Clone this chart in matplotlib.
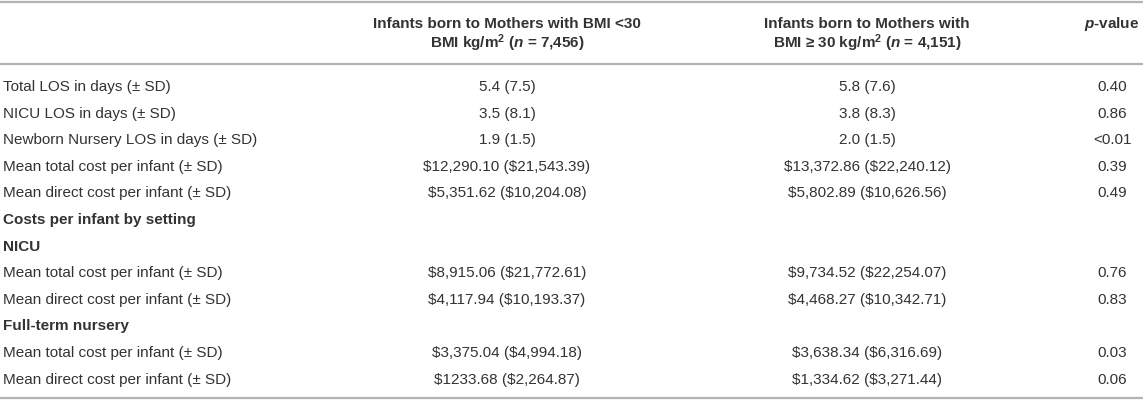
import matplotlib
matplotlib.use("Agg")
import matplotlib.pyplot as plt

plt.rcParams['font.family'] = ['Liberation Sans', 'DejaVu Sans']
plt.rcParams['mathtext.fontset'] = 'custom'
plt.rcParams['mathtext.rm'] = 'Liberation Sans'
plt.rcParams['mathtext.it'] = 'Liberation Sans:italic'
plt.rcParams['mathtext.bf'] = 'Liberation Sans:bold'
plt.rcParams['mathtext.bfit'] = 'Liberation Sans:italic:bold'

# table content
header_1 = ["Infants born to Mothers with BMI <30",
            r"BMI kg/m$^{\mathbf{2}}$ ($\mathbfit{n}$ = 7,456)"]
header_2 = ["Infants born to Mothers with",
            "BMI \u2265 30 kg/m$^{\\mathbf{2}}$ ($\\mathbfit{n}$ = 4,151)"]
header_p = r"$\mathbfit{p}$-value"

row_labels = [
    "Total LOS in days (\u00b1 SD)",
    "NICU LOS in days (\u00b1 SD)",
    "Newborn Nursery LOS in days (\u00b1 SD)",
    "Mean total cost per infant (\u00b1 SD)",
    "Mean direct cost per infant (\u00b1 SD)",
    "Costs per infant by setting",
    "NICU",
    "Mean total cost per infant (\u00b1 SD)",
    "Mean direct cost per infant (\u00b1 SD)",
    "Full-term nursery",
    "Mean total cost per infant (\u00b1 SD)",
    "Mean direct cost per infant (\u00b1 SD)",
]
section_rows = [5, 6, 9]
bmi_under_30 = ["5.4 (7.5)", "3.5 (8.1)", "1.9 (1.5)",
                "$12,290.10 ($21,543.39)", "$5,351.62 ($10,204.08)",
                "", "",
                "$8,915.06 ($21,772.61)", "$4,117.94 ($10,193.37)",
                "",
                "$3,375.04 ($4,994.18)", "$1233.68 ($2,264.87)"]
bmi_30_plus = ["5.8 (7.6)", "3.8 (8.3)", "2.0 (1.5)",
               "$13,372.86 ($22,240.12)", "$5,802.89 ($10,626.56)",
               "", "",
               "$9,734.52 ($22,254.07)", "$4,468.27 ($10,342.71)",
               "",
               "$3,638.34 ($6,316.69)", "$1,334.62 ($3,271.44)"]
p_values = ["0.40", "0.86", "<0.01", "0.39", "0.49", "", "",
            "0.76", "0.83", "", "0.03", "0.06"]

W, H = 1143, 402
text_color = "#333333"
line_color = "#b3b3b3"

fig = plt.figure(figsize=(W / 100, H / 100), dpi=100)
ax = fig.add_axes([0, 0, 1, 1])
ax.set_xlim(0, W)
ax.set_ylim(H, 0)
ax.axis("off")

# rules
for y in [3, 65, 399]:
    ax.plot([0, W], [y, y], color=line_color, lw=1.6, solid_capstyle="butt")

# header
fs = 11
x_lab, x_c1, x_c2, x_p = 3, 507, 867, 1112
for i, (t1, t2) in enumerate(zip(header_1, header_2)):
    y = 24 + i * 19.5
    ax.text(x_c1, y, t1, ha="center", va="center", fontsize=fs,
            fontweight="bold", color=text_color)
    ax.text(x_c2, y, t2, ha="center", va="center", fontsize=fs,
            fontweight="bold", color=text_color)
ax.text(x_p, 24, header_p, ha="center", va="center", fontsize=fs,
        fontweight="bold", color=text_color)

# body rows
y0, dy = 87, 26.6
for i, label in enumerate(row_labels):
    y = y0 + i * dy
    weight = "bold" if i in section_rows else "normal"
    ax.text(x_lab, y, label, ha="left", va="center", fontsize=fs,
            fontweight=weight, color=text_color)
    ax.text(x_c1, y, bmi_under_30[i].replace("$", r"\$"), ha="center",
            va="center", fontsize=fs, color=text_color)
    ax.text(x_c2, y, bmi_30_plus[i].replace("$", r"\$"), ha="center",
            va="center", fontsize=fs, color=text_color)
    ax.text(x_p, y, p_values[i], ha="center", va="center", fontsize=fs,
            color=text_color)

fig.savefig("out.png", dpi=100)
